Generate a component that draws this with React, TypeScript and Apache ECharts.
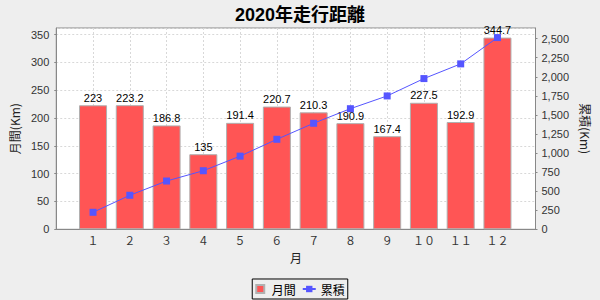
import React, { useEffect, useRef } from "react";
import * as echarts from "echarts";

const TITLE = "2020年走行距離";
const months = ["１", "２", "３", "４", "５", "６", "７", "８", "９", "１０", "１１", "１２"];
const monthly = [223, 223.2, 186.8, 135, 191.4, 220.7, 210.3, 190.9, 167.4, 227.5, 192.9, 344.7];
const cumulative = [223, 446.2, 633, 768, 959.4, 1180.1, 1390.4, 1581.3, 1748.7, 1976.2, 2169.1, 2513.8];
const SERIES_MONTHLY = "月間";
const SERIES_CUM = "累積";
const X_NAME = "月";
const Y_LEFT_NAME = "月間(Km)";
const Y_RIGHT_NAME = "累積(Km)";

const LEFT_MAX = Math.max(...monthly) * 1.05;
const RIGHT_MAX = Math.max(...cumulative) * 1.05;

const FONT = "'Liberation Sans', 'Noto Sans CJK JP', sans-serif";
const CJK = "'Noto Sans CJK JP', sans-serif";

// plot geometry
const PL = 55;
const PT = 28;
const PW = 480.5;
const PH = 201.3;
const CAT_FIRST = 0.05 * PW + (0.7 * PW) / 12 / 2;

export default function App() {
  const ref = useRef<HTMLDivElement>(null);
  useEffect(() => {
    document.body.style.margin = "0";
    if (!ref.current) return;
    const chart = echarts.init(ref.current, null, { renderer: "svg" });
    const axisLine = { show: true, lineStyle: { color: "#888888", width: 1 } };
    chart.setOption({
      animation: false,
      backgroundColor: "#eeeeee",
      title: {
        text: TITLE,
        left: "center",
        top: 1,
        textStyle: { fontFamily: FONT, fontSize: 18, fontWeight: "bold", color: "#000" },
      },
      legend: {
        bottom: 1,
        left: "center",
        borderColor: "#000",
        borderWidth: 1,
        padding: [4, 3, 4, 3],
        itemGap: 6,
        itemWidth: 13,
        itemHeight: 8,
        textStyle: { fontFamily: CJK, fontSize: 12, color: "#000" },
        data: [
          { name: SERIES_MONTHLY, icon: "path://M0,0h8v8h-8z" },
          { name: SERIES_CUM },
        ],
      },
      grid: [
        {
          left: PL,
          top: PT,
          width: PW,
          height: PH,
          show: true,
          backgroundColor: "#ffffff",
          borderColor: "#888888",
          borderWidth: 1,
        },
        {
          left: PL + CAT_FIRST,
          top: PT,
          width: PW - 2 * CAT_FIRST,
          height: PH,
          show: false,
        },
      ],
      xAxis: [
        {
          gridIndex: 0,
          type: "category",
          data: months,
          name: X_NAME,
          nameLocation: "middle",
          nameGap: 22,
          nameTextStyle: { fontFamily: CJK, fontSize: 12, color: "#222" },
          axisLine,
          axisTick: { show: false },
          axisLabel: { show: false },
          splitLine: { show: false },
        },
        {
          gridIndex: 1,
          type: "category",
          boundaryGap: false,
          data: months,
          axisLine: { show: false },
          axisTick: { show: false },
          axisLabel: { margin: 6, fontFamily: FONT, fontSize: 11, color: "#333" },
          splitLine: { show: true, lineStyle: { color: "#d8d8d8", type: [2, 2], width: 1 } },
        },
      ],
      yAxis: [
        {
          gridIndex: 0,
          type: "value",
          position: "left",
          min: 0,
          max: LEFT_MAX,
          interval: 50,
          name: Y_LEFT_NAME,
          nameLocation: "middle",
          nameGap: 26,
          nameRotate: 90,
          nameTextStyle: { fontFamily: CJK, fontSize: 12, color: "#222" },
          axisLine,
          axisTick: { show: true, length: 2, lineStyle: { color: "#888888" } },
          axisLabel: {
            margin: 7,
            fontFamily: FONT,
            fontSize: 11,
            color: "#333",
            showMaxLabel: false,
          },
          splitLine: { show: true, lineStyle: { color: "#d8d8d8", type: [2, 2], width: 1 } },
        },
        {
          gridIndex: 0,
          type: "value",
          position: "right",
          min: 0,
          max: RIGHT_MAX,
          interval: 250,
          name: Y_RIGHT_NAME,
          nameLocation: "middle",
          nameGap: 22,
          nameRotate: -90,
          nameTextStyle: { fontFamily: CJK, fontSize: 12, color: "#222" },
          axisLine,
          axisTick: { show: true, length: 2, lineStyle: { color: "#888888" } },
          axisLabel: {
            margin: 6,
            fontFamily: FONT,
            fontSize: 11,
            color: "#333",
            showMaxLabel: false,
            formatter: (v: number) => v.toLocaleString("en-US"),
          },
          splitLine: { show: false },
        },
        { gridIndex: 1, type: "value", min: 0, max: LEFT_MAX, show: false },
        { gridIndex: 1, type: "value", min: 0, max: RIGHT_MAX, show: false },
      ],
      series: [
        {
          name: SERIES_MONTHLY,
          type: "bar",
          xAxisIndex: 1,
          yAxisIndex: 2,
          data: monthly,
          barWidth: (0.7 * PW) / 12,
          itemStyle: { color: "#ff5555", borderColor: "#b0b0b0", borderWidth: 1 },
          label: {
            show: true,
            position: "top",
            distance: 2,
            fontFamily: FONT,
            fontSize: 11,
            color: "#000",
          },
          z: 2,
        },
        {
          name: SERIES_CUM,
          type: "line",
          xAxisIndex: 1,
          yAxisIndex: 3,
          data: cumulative,
          symbol: "rect",
          symbolSize: 7,
          lineStyle: { color: "#5555ff", width: 1 },
          itemStyle: { color: "#5555ff" },
          z: 3,
        },
      ],
    });
    return () => chart.dispose();
  }, []);
  return <div ref={ref} style={{ width: 600, height: 300 }} />;
}
